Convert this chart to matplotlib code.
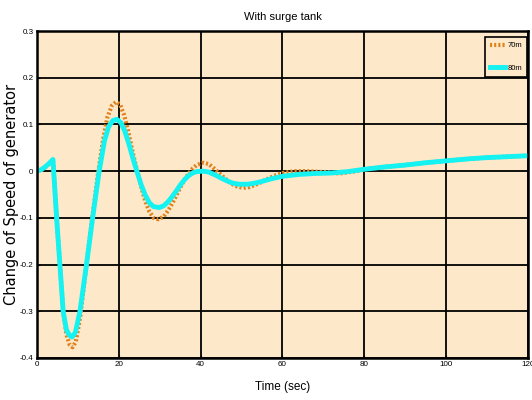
import matplotlib.pyplot as plt

# time (sec) and speed deviation read for each penstock length
t70 = [0, 1, 2, 3, 3.9, 4.3, 4.8, 5.6, 6.4, 7.2, 8.0, 8.7, 9.5, 10.6, 12.1, 13.5,
       15.0, 16.2, 17.2, 18.3, 19.3, 20.3, 21.3, 22.3, 23.4, 24.5, 25.5, 26.5,
       27.5, 28.5, 29.7, 31, 32, 33, 34, 35, 36, 37, 38, 39, 40.7, 42, 43, 44,
       45, 46, 47, 48, 49, 50.4, 52, 54, 56, 58, 60, 63, 66, 70, 74, 78, 80,
       85, 90, 95, 100, 105, 110, 115, 120]
v70 = [0, 0.002, 0.008, 0.016, 0.024, -0.03, -0.1, -0.2, -0.3, -0.35, -0.372,
       -0.377, -0.365, -0.31, -0.2, -0.1, 0.0, 0.07, 0.115, 0.14, 0.148, 0.143,
       0.12, 0.085, 0.04, 0.0, -0.035, -0.065, -0.087, -0.1, -0.103, -0.097,
       -0.085, -0.07, -0.053, -0.035, -0.019, -0.006, 0.005, 0.013, 0.018,
       0.015, 0.008, 0.0, -0.008, -0.016, -0.023, -0.029, -0.033, -0.036,
       -0.034, -0.027, -0.018, -0.01, -0.004, 0.0, 0.0, -0.002, -0.005, 0.0,
       0.004, 0.009, 0.013, 0.018, 0.022, 0.026, 0.029, 0.031, 0.033]

t80 = [0, 1, 2, 3, 3.9, 4.3, 4.8, 5.6, 6.4, 7.2, 8.0, 8.6, 9.4, 10.5, 12.1, 13.6,
       15.2, 16.5, 17.5, 18.5, 19.5, 20.5, 21.5, 22.5, 23.5, 24.4, 25.5, 26.5,
       27.5, 28.5, 29.9, 31, 32, 33, 34, 35, 36, 37, 38, 39, 40.6, 42, 43, 44,
       45, 46, 47, 48, 49.5, 51.6, 53, 55, 57, 60, 64, 68, 72, 76, 80, 85, 90,
       95, 100, 105, 110, 115, 120]
v80 = [0, 0.003, 0.009, 0.017, 0.025, -0.03, -0.1, -0.2, -0.3, -0.34, -0.352,
       -0.355, -0.345, -0.3, -0.2, -0.1, 0.0, 0.065, 0.095, 0.108, 0.111, 0.104,
       0.085, 0.057, 0.026, 0.0, -0.03, -0.052, -0.068, -0.076, -0.078, -0.074,
       -0.066, -0.055, -0.043, -0.03, -0.019, -0.01, -0.004, -0.001, 0.0,
       -0.002, -0.006, -0.01, -0.015, -0.019, -0.023, -0.026, -0.028, -0.028,
       -0.026, -0.022, -0.017, -0.011, -0.007, -0.005, -0.004, -0.001, 0.004,
       0.009, 0.013, 0.018, 0.022, 0.026, 0.029, 0.031, 0.033]

xticks = [0, 20, 40, 60, 80, 100, 120]
yticks = [-0.4, -0.3, -0.2, -0.1, 0, 0.1, 0.2, 0.3]
ytick_labels = ['-0.4', '-0.3', '-0.2', '-0.1', '0', '0.1', '0.2', '0.3']

plt.rcParams['font.family'] = ['Liberation Sans', 'DejaVu Sans']

fig = plt.figure(figsize=(5.32, 4.0), dpi=100)
ax = fig.add_axes([0.0695, 0.105, 0.923, 0.8175])
ax.set_facecolor('#fde8ca')

ax.plot(t70, v70, color='#e0821c', linestyle=(0, (0.5, 0.5)), linewidth=3.0, label='70m')
ax.plot(t80, v80, color='#14f2f2', linewidth=3.5, label='80m')

ax.set_xlim(0, 120)
ax.set_ylim(-0.4, 0.3)
ax.set_xticks(xticks)
ax.set_yticks(yticks)
ax.set_yticklabels(ytick_labels)
ax.tick_params(direction='in', length=2, labelsize=5.8, pad=2.5)
ax.grid(True, color='black', linewidth=1.3)
for s in ax.spines.values():
    s.set_linewidth(1.8)

ax.set_title('With surge tank', fontsize=8, pad=8)
ax.set_xlabel('Time (sec)', fontsize=8.5, labelpad=9)
ax.set_ylabel('Change of Speed of generator', fontsize=10.5, family='DejaVu Sans')
ax.yaxis.set_label_coords(-0.037, 0.5)

leg = ax.legend(loc='upper right', bbox_to_anchor=(0.998, 0.982), borderaxespad=0,
                fontsize=5.5, handlelength=2.0, frameon=True, fancybox=False,
                labelspacing=2.0, handletextpad=0.3, borderpad=0.65)
leg.get_frame().set_edgecolor('black')
leg.get_frame().set_linewidth(1.2)
leg.get_frame().set_facecolor('#fde8ca')
leg.get_frame().set_alpha(1)

plt.savefig('out.png', dpi=100)
